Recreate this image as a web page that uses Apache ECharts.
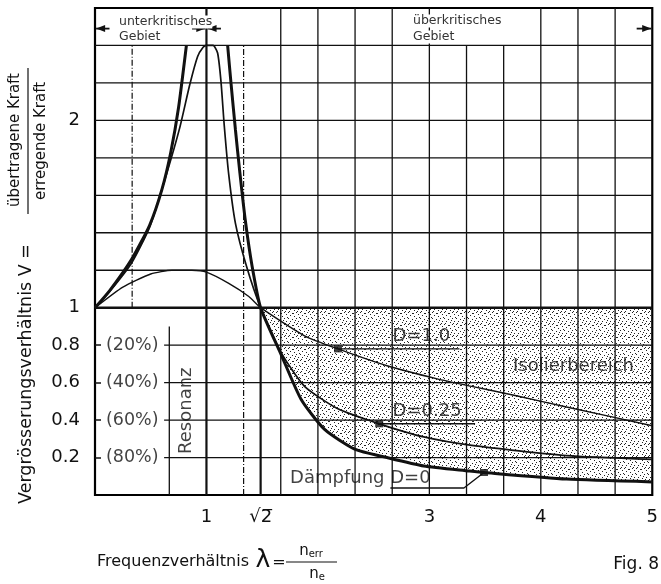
<!DOCTYPE html>
<html><head><meta charset="utf-8">
<script src="https://cdn.jsdelivr.net/npm/echarts@6/dist/echarts.min.js"></script>
<style>html,body{margin:0;padding:0;background:#fff}#c{width:661px;height:584px}</style>
</head><body><div id="c"></div>
<script>
// ---------- data ----------
const SQRT2_POS = 1.486;            // where the sqrt(2) line / crossing point is drawn
const xTickValues = [1, SQRT2_POS, 3, 4, 5];
const xTickLabels = ['1', '√2\u0305', '3', '4', '5'];
const yTickValues = [0.2, 0.4, 0.6, 0.8, 1, 2];
const yTickLabels = ['0.2', '0.4', '0.6', '0.8', '1', '2'];
const percentTicks = [0.8, 0.6, 0.4, 0.2];
const percentLabels = ['(20%)', '(40%)', '(60%)', '(80%)'];

// D = 0 (undamped), two branches around resonance
const d0Left = [[0,1.0],[0.13,1.09],[0.33,1.26],[0.49,1.44],[0.6,1.63],[0.68,1.83],[0.75,2.07],[0.82,2.40]];
const d0Right = [[1.19,2.40],[1.22,2.20],[1.26,1.95],[1.30,1.72],[1.35,1.46],[1.41,1.22],[1.486,1.0],
  [1.67,0.75],[1.85,0.51],[2.06,0.35],[2.33,0.245],[2.62,0.20],[2.95,0.155],[3.36,0.128],[3.49,0.12],[4.23,0.085],[5.0,0.07]];
// D = 0.25
const d025 = [[0,1.0],[0.13,1.085],[0.33,1.24],[0.49,1.43],[0.64,1.71],[0.76,1.96],[0.85,2.19],[0.92,2.34],[0.97,2.39],[1.0,2.40],
  [1.06,2.40],[1.10,2.36],[1.13,2.21],[1.16,1.97],[1.20,1.71],[1.26,1.45],[1.36,1.22],[1.486,1.0],
  [1.67,0.76],[1.88,0.58],[2.18,0.46],[2.55,0.38],[2.95,0.31],[3.38,0.265],[4.23,0.21],[5.0,0.19]];
// D = 1.0
const d10 = [[0,1.0],[0.25,1.11],[0.5,1.18],[0.69,1.20],[0.87,1.20],[1.0,1.19],[1.2,1.13],[1.38,1.06],[1.486,1.0],
  [1.88,0.85],[2.18,0.78],[2.62,0.69],[3.07,0.62],[3.38,0.58],[3.78,0.53],[4.23,0.47],[5.0,0.37]];
// marker dots on the curves
const markerPoints = [[2.18,0.78],[2.55,0.38],[3.49,0.12]];
// leader / underline lines for the curve labels
const leaderLines = [
  [[2.18,0.78],[3.27,0.78]],
  [[2.55,0.38],[3.41,0.38]],
  [[3.49,0.12],[3.31,0.037],[2.65,0.037]]
];

// ---------- rendering ----------
const FONT = 'DejaVu Sans';
const INK = '#111';

function makeStipple(){
  const c = document.createElement('canvas'); c.width = 12; c.height = 12;
  const g = c.getContext('2d'); g.fillStyle = '#222';
  const dots = [[0,0],[4,1],[8,0],[10,2],[2,3],[6,4],[11,5],[0,6],[4,7],[8,6],[2,9],[6,10],[10,9],[9,11],[1,11],[5,1],[7,8]];
  dots.forEach(d => g.fillRect(d[0], d[1], 1, 1));
  return c;
}
const stipple = makeStipple();

function gridRender(params, api){
  if (params.dataIndex !== 0) return;
  const ch = [];
  const seg = (x1,y1,x2,y2,w,dash) => {
    const a = api.coord([x1,y1]), b = api.coord([x2,y2]);
    ch.push({type:'line', shape:{x1:a[0],y1:a[1],x2:b[0],y2:b[1]},
      style:{stroke:INK, lineWidth:w, lineDash:dash||null}});
  };
  const DD = [6,2,1,2];
  for (let k = 1; k <= 14; k++){
    const x = k/3;
    if (k === 1) seg(x,1,x,2.4,1.2,DD);
    else if (k === 2) seg(x,0,x,0.9,1.3);
    else if (k === 3) seg(x,0,x,2.6,2.2);
    else if (k === 4) seg(x,0,x,2.4,1.2,DD);
    else if (k === 10 || k === 11) seg(x,0,x,2.4,1.3);
    else seg(x,0,x,2.6,1.3);
  }
  seg(SQRT2_POS,0,SQRT2_POS,1,2.2);
  for (let j = 1; j <= 12; j++){
    const y = j*0.2;
    if (j <= 4) seg(0.62,y,5,y,1.3);
    else if (j === 5) seg(0,y,5,y,2.4);
    else seg(0,y,5,y,1.3);
  }
  const arrow = (xTip, xTail, y) => {
    const t = api.coord([xTip,y]), e = api.coord([xTail,y]);
    const dir = Math.sign(t[0]-e[0]);
    ch.push({type:'line', shape:{x1:e[0],y1:e[1],x2:t[0],y2:t[1]}, style:{stroke:INK,lineWidth:1.8}});
    ch.push({type:'polygon', shape:{points:[[t[0],t[1]],[t[0]-dir*9,t[1]-3.5],[t[0]-dir*9,t[1]+3.5]]}, style:{fill:INK}});
  };
  arrow(0.01,0.13,2.49); arrow(0.99,0.87,2.49); arrow(1.01,1.13,2.49); arrow(4.99,4.86,2.49);
  return {type:'group', children:ch};
}

function stippleRender(params, api){
  if (params.dataIndex !== 0) return;
  const pts = [api.coord([SQRT2_POS,1]), api.coord([5,1])];
  const below = d0Right.filter(p => p[0] >= SQRT2_POS).slice().reverse();
  below.forEach(p => pts.push(api.coord(p)));
  return {type:'polygon', shape:{points:pts}, style:{fill:{image:stipple, repeat:'repeat'}}};
}

const labelBase = {show:true, fontFamily:FONT, color:INK, fontSize:18};
function textItem(x, y, text, opts){
  return {value:[x,y], label:Object.assign({}, labelBase, {formatter:text, position:'right', distance:0}, opts||{})};
}
const annotations = [
  textItem(2.67,0.845,'D=1.0'),
  textItem(2.67,0.445,'D=0.25'),
  textItem(1.75,0.09,'Dämpfung D=0'),
  textItem(3.75,0.685,'Isolierbereich'),
  textItem(0.82,0.45,'Resonanz',{position:'inside', rotate:90})
];
percentTicks.forEach((v,i) => annotations.push(textItem(0.098, v, percentLabels[i], {fontSize:17.5})));

const lineSeries = (name, data, w) => ({
  name, type:'line', data, showSymbol:false, smooth:0.2, z:4, silent:true,
  lineStyle:{color:INK, width:w}
});

const chart = echarts.init(document.getElementById('c'), null, {renderer:'canvas'});
chart.setOption({
  animation:false,
  backgroundColor:'#fff',
  grid:{left:95, right:4, top:8, bottom:89, show:true, borderColor:'#000', borderWidth:2.2, backgroundColor:'transparent'},
  xAxis:{type:'value', min:0, max:5,
    axisLine:{show:false}, axisTick:{show:false}, splitLine:{show:false},
    axisLabel:{customValues:xTickValues, margin:13, fontSize:18, fontFamily:FONT, color:INK,
      formatter:v => { const i = xTickValues.findIndex(t => Math.abs(t-v) < 1e-6); return i >= 0 ? xTickLabels[i] : ''; }}},
  yAxis:{type:'value', min:0, max:2.6,
    axisLine:{show:false}, splitLine:{show:false},
    axisTick:{show:true, inside:true, length:6, customValues:percentTicks, lineStyle:{color:INK, width:1.5}},
    axisLabel:{customValues:yTickValues, margin:15, fontSize:18, fontFamily:FONT, color:INK,
      formatter:v => { const i = yTickValues.findIndex(t => Math.abs(t-v) < 1e-6); return i >= 0 ? yTickLabels[i] : ''; }}},
  series:[
    {type:'custom', name:'stipple', coordinateSystem:'cartesian2d', data:[[0,0]], renderItem:stippleRender, z:1, silent:true},
    {type:'custom', name:'grid', coordinateSystem:'cartesian2d', data:[[0,0]], renderItem:gridRender, z:2, silent:true},
    lineSeries('D=1.0', d10, 1.4),
    lineSeries('D=0.25', d025, 1.7),
    lineSeries('D=0 left', d0Left, 3),
    lineSeries('D=0 right', d0Right, 3),
    {type:'line', name:'leaders', data:leaderLines[0], showSymbol:false, z:4, silent:true, lineStyle:{color:INK,width:1.4}},
    {type:'line', name:'leaders2', data:leaderLines[1], showSymbol:false, z:4, silent:true, lineStyle:{color:INK,width:1.4}},
    {type:'line', name:'leaders3', data:leaderLines[2], showSymbol:false, z:4, silent:true, lineStyle:{color:INK,width:1.4}},
    {type:'scatter', name:'markers', data:markerPoints, symbol:'rect', symbolSize:[8,7], z:5, silent:true, itemStyle:{color:INK}},
    {type:'scatter', name:'annotations', data:annotations, symbolSize:0, z:6, silent:true}
  ],
  graphic:[
    {type:'text', z:10, x:119, y:22, style:{text:'unterkritisches', font:'12.5px '+FONT, fill:'#333', verticalAlign:'middle', backgroundColor:'#fff'}},
    {type:'text', z:10, x:119, y:37, style:{text:'Gebiet', font:'12.5px '+FONT, fill:'#333', verticalAlign:'middle'}},
    {type:'text', z:10, x:413, y:21, style:{text:'überkritisches', font:'12.5px '+FONT, fill:'#333', verticalAlign:'middle', backgroundColor:'#fff'}},
    {type:'text', z:10, x:413, y:37, style:{text:'Gebiet', font:'12.5px '+FONT, fill:'#333', verticalAlign:'middle', backgroundColor:'#fff'}},
    {type:'text', z:10, x:26, y:374, rotation:Math.PI/2, style:{text:'Vergrösserungsverhältnis V =', font:'17.5px '+FONT, fill:INK, align:'center', verticalAlign:'middle'}},
    {type:'text', z:10, x:15, y:140, rotation:Math.PI/2, style:{text:'übertragene Kraft', font:'15px '+FONT, fill:INK, align:'center', verticalAlign:'middle'}},
    {type:'text', z:10, x:41, y:141, rotation:Math.PI/2, style:{text:'erregende Kraft', font:'15px '+FONT, fill:INK, align:'center', verticalAlign:'middle'}},
    {type:'line', z:10, shape:{x1:28, y1:68, x2:28, y2:214}, style:{stroke:INK, lineWidth:1.2}},
    {type:'text', z:10, x:97, y:562, style:{text:'Frequenzverhältnis', font:'16px '+FONT, fill:INK, verticalAlign:'middle'}},
    {type:'text', z:10, x:263, y:560, style:{text:'λ', font:'25px '+FONT, fill:INK, align:'center', verticalAlign:'middle'}},
    {type:'text', z:10, x:279, y:563, style:{text:'=', font:'16px '+FONT, fill:INK, align:'center', verticalAlign:'middle'}},
    {type:'text', z:10, x:311, y:551, style:{text:'{n|n}{s|err}', align:'center', verticalAlign:'middle',
      rich:{n:{font:'15px '+FONT, fill:INK}, s:{font:'10px '+FONT, fill:INK, padding:[6,0,0,0]}}}},
    {type:'line', z:10, shape:{x1:286, y1:562, x2:337, y2:562}, style:{stroke:INK, lineWidth:1.2}},
    {type:'text', z:10, x:317, y:574, style:{text:'{n|n}{s|e}', align:'center', verticalAlign:'middle',
      rich:{n:{font:'15px '+FONT, fill:INK}, s:{font:'10px '+FONT, fill:INK, padding:[6,0,0,0]}}}},
    {type:'text', z:10, x:659, y:565, style:{text:'Fig. 8', font:'17px '+FONT, fill:INK, align:'right', verticalAlign:'middle'}}
  ]
});
</script></body></html>
